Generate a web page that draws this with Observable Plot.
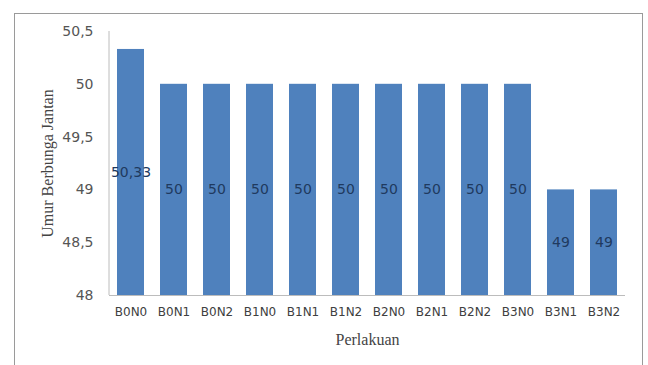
<!DOCTYPE html>
<html>
<head>
<meta charset="utf-8">
<script src="https://cdn.jsdelivr.net/npm/d3@7"></script>
<script src="https://cdn.jsdelivr.net/npm/@observablehq/plot@0.6"></script>
<style>
  html, body { margin: 0; padding: 0; background: #fff; }
  #wrap { position: relative; width: 648px; height: 365px; overflow: hidden; }
  #box { position: absolute; left: 14px; top: 13px; width: 629px; height: 360px;
         border: 1px solid #9a9a9a; border-bottom: none; box-sizing: border-box; }
  #wrap svg { position: absolute; left: 0; top: 0; }
</style>
</head>
<body>
<div id="wrap"><div id="box"></div></div>
<script>
// Male flowering age per treatment
const perlakuan = ["B0N0","B0N1","B0N2","B1N0","B1N1","B1N2","B2N0","B2N1","B2N2","B3N0","B3N1","B3N2"];
const umur = [50.33, 50, 50, 50, 50, 50, 50, 50, 50, 50, 49, 49];
const yTicks = [48, 48.5, 49, 49.5, 50, 50.5];
const yMin = 48;

const data = perlakuan.map((p, i) => ({p, v: umur[i]}));
const comma = d => String(d).replace(".", ",");
const sans = "'DejaVu Sans', sans-serif";
const serif = "'Liberation Serif', serif";

const W = 648, H = 365, mL = 109, mR = 23, mT = 31, mB = 70;
const padIn = 0.37, padOut = 0.185;
const step = (W - mL - mR) / (perlakuan.length - padIn + 2 * padOut);
// offset from the first band's centre back to the left edge of the plot area
const edgeOffset = -(step * padOut + step * (1 - padIn) / 2) - 0.5;
const axisGray = "#bcbcbc";

const chart = Plot.plot({
  width: W,
  height: H,
  marginLeft: mL,
  marginRight: mR,
  marginTop: mT,
  marginBottom: mB,
  style: {fontFamily: sans, background: "transparent"},
  x: {domain: perlakuan, paddingInner: padIn, paddingOuter: padOut, label: null},
  y: {domain: [48, 50.5], ticks: yTicks, label: null},
  marks: [
    Plot.barY(data, {x: "p", y1: yMin, y2: "v", fill: "#4f81bd"}),
    Plot.ruleY([yMin], {stroke: axisGray, strokeWidth: 1}),
    // vertical axis line along the left edge of the plot area
    Plot.ruleX([perlakuan[0]], {x: d => d, y1: yTicks[0], y2: yTicks[yTicks.length - 1],
      dx: edgeOffset, stroke: axisGray}),
    Plot.axisY({ticks: yTicks, tickFormat: comma, tickSize: 0, tickPadding: 16,
      fontSize: 14, fill: "#555", label: null}),
    Plot.axisX({tickSize: 0, tickPadding: 12, fontSize: 12, fill: "#404040", label: null}),
    Plot.text(data, {x: "p", y: d => (yMin + d.v) / 2, text: d => comma(d.v),
      fontSize: 14, fill: "#1f3a5f"}),
    Plot.text(["Umur Berbunga Jantan"], {frameAnchor: "left", textAnchor: "middle",
      dx: -62, rotate: -90, fontFamily: serif, fontSize: 16, fill: "#444"}),
    Plot.text(["Perlakuan"], {frameAnchor: "bottom", textAnchor: "middle", dy: 49,
      fontFamily: serif, fontSize: 16, fill: "#444"})
  ]
});
document.getElementById("wrap").appendChild(chart);
</script>
</body>
</html>
